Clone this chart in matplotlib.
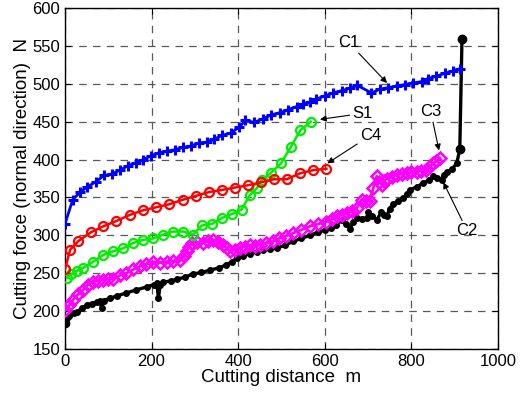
import matplotlib
matplotlib.use("Agg")
import matplotlib.pyplot as plt

plt.rcParams["font.family"] = ["Liberation Sans", "DejaVu Sans"]

# C1 (blue, +)
c1_x = [0, 18, 35, 52, 72, 90, 108, 127, 146, 164, 181, 199, 217, 235, 254, 272, 291, 310,
        327, 345, 363, 383, 403, 417, 437, 458, 477, 497, 516, 535, 550, 566, 581, 600, 620,
        639, 658, 675, 708, 728, 747, 766, 785, 804, 824, 839, 858, 878, 897, 912]
c1_y = [315, 347, 357, 364, 371, 379, 381, 386, 392, 396, 400, 405, 409, 411, 413, 416, 418, 422,
        423, 427, 432, 435, 443, 452, 449, 454, 459, 462, 466, 470, 473, 476, 480, 484, 488,
        491, 494, 498, 488, 493, 495, 497, 499, 501, 503, 507, 510, 514, 517, 520]

# C2 (black, dots)
c2_x = [0, 4, 10, 20, 27, 40, 50, 62, 73, 80, 85, 90, 104, 120, 142, 165, 189, 205, 212, 216,
        220, 227, 245, 258, 278, 296, 315, 335, 355, 373, 385, 397, 412, 427, 443, 458, 474,
        489, 508, 527, 546, 566, 584, 600, 614, 627, 639, 648, 658, 666, 674, 686, 697, 701,
        710, 720, 731, 737, 743, 750, 758, 770, 781, 790, 797, 812, 828, 840, 851, 860, 870,
        876, 882, 893, 905, 912, 917]
c2_y = [184, 191, 194, 197, 199, 204, 208, 210, 212, 214, 204, 214, 217, 220, 224, 228, 232, 235,
        237, 217, 235, 238, 240, 242, 245, 249, 251, 254, 257, 261, 265, 270, 273, 276, 278,
        280, 282, 283, 287, 292, 296, 300, 304, 307, 310, 314, 320, 315, 309, 317, 323, 322,
        323, 331, 326, 320, 331, 327, 325, 335, 342, 345, 349, 355, 360, 364, 369, 373, 378,
        376, 373, 380, 384, 387, 395, 414, 559]

# C3 (magenta, diamonds)
c3_x = [0, 10, 19, 30, 42, 53, 65, 77, 88, 100, 112, 127, 142, 158, 173, 188, 204, 219, 235,
        250, 266, 275, 281, 287, 293, 305, 319, 331, 342, 354, 366, 374, 381, 392, 404, 415,
        427, 438, 450, 465, 481, 495, 510, 527, 545, 566, 585, 604, 616, 628, 640, 651, 662,
        674, 685, 695, 704, 712, 720, 726, 732, 738, 743, 755, 766, 778, 789, 800, 812, 823,
        835, 843, 851, 858, 866]
c3_y = [201, 208, 215, 222, 228, 235, 239, 240, 241, 242, 243, 247, 250, 255, 259, 262, 265, 264,
        265, 266, 268, 273, 279, 285, 290, 291, 290, 292, 294, 291, 287, 283, 279, 281, 283,
        285, 287, 286, 287, 290, 292, 296, 299, 303, 307, 312, 315, 318, 321, 325, 327, 329,
        332, 336, 347, 345, 345, 362, 378, 370, 367, 372, 375, 377, 380, 381, 382, 383, 384,
        385, 386, 391, 395, 398, 402]

# C4 (red, circles)
c4_x = [0, 12, 30, 60, 89, 119, 150, 180, 210, 241, 272, 302, 332, 363, 392, 422, 453, 483,
        512, 544, 573, 604]
c4_y = [255, 281, 292, 304, 312, 319, 327, 333, 337, 341, 347, 352, 357, 360, 363, 366, 370, 374,
        374, 382, 386, 388]

# S1 (green, circles)
s1_x = [5, 15, 27, 42, 65, 88, 112, 135, 158, 181, 204, 227, 250, 273, 296, 316, 339, 363, 385,
        408, 427, 443, 454, 475, 499, 522, 544, 568]
s1_y = [244, 249, 253, 257, 265, 274, 279, 283, 290, 294, 296, 301, 305, 305, 301, 313, 315, 323,
        328, 334, 353, 362, 373, 382, 395, 417, 439, 450]


def main():
    fig = plt.figure(figsize=(5.28, 3.96), dpi=100)
    ax = fig.add_axes([0.123, 0.1187, 0.82, 0.861])

    ax.plot(c2_x, c2_y, color="black", lw=2.4, marker="o", ms=4, zorder=3)
    ax.plot(c3_x, c3_y, color="#ff00ff", lw=2, marker="D", ms=6, mfc="none", mew=1.8, zorder=4)
    ax.plot(s1_x, s1_y, color="#00ee00", lw=1.8, marker="o", ms=6.5, mfc="none", mew=1.6, zorder=5)
    ax.plot(c4_x, c4_y, color="red", lw=1.8, marker="o", ms=6.5, mfc="none", mew=1.6, zorder=5)
    ax.plot(c1_x, c1_y, color="blue", lw=2, marker="+", ms=6.5, mew=2.2, zorder=6)
    # big dots at the ends of C2
    ax.plot([c2_x[0], c2_x[-2], c2_x[-1]], [c2_y[0], c2_y[-2], c2_y[-1]], "o", color="black", ms=6, zorder=3)

    arr = dict(arrowstyle="-|>", color="black", lw=0.8, mutation_scale=9, shrinkA=0, shrinkB=0)
    ax.annotate("C1", xy=(744, 501), xytext=(656, 554), ha="center", va="center",
                fontsize=12, arrowprops=arr, zorder=10)
    ax.annotate("S1", xy=(589, 453), xytext=(687, 461), ha="center", va="center",
                fontsize=12, arrowprops=arr, zorder=10)
    ax.annotate("C4", xy=(606, 395), xytext=(706, 432), ha="center", va="center",
                fontsize=12, arrowprops=arr, zorder=10)
    ax.annotate("C3", xy=(864, 412), xytext=(845, 463), ha="center", va="center",
                fontsize=12, arrowprops=arr, zorder=10)
    ax.annotate("C2", xy=(874, 370), xytext=(929, 306), ha="center", va="center",
                fontsize=12, arrowprops=arr, zorder=10)

    ax.set_xlim(0, 1000)
    ax.set_ylim(150, 600)
    ax.set_xticks(range(0, 1001, 200))
    ax.set_yticks(range(150, 601, 50))
    ax.grid(True, color="0.35", linestyle=(0, (6, 5)), linewidth=0.9)
    ax.set_axisbelow(True)
    ax.tick_params(direction="in", length=4, labelsize=12, top=True, right=True)
    for s in ax.spines.values():
        s.set_linewidth(1.0)

    ax.set_xlabel("Cutting distance  m", fontsize=13.5, labelpad=0)
    ax.set_ylabel("Cutting force (normal direction)  N", fontsize=13.5, labelpad=1)

    fig.savefig("out.png", dpi=100)


if __name__ == "__main__":
    main()
